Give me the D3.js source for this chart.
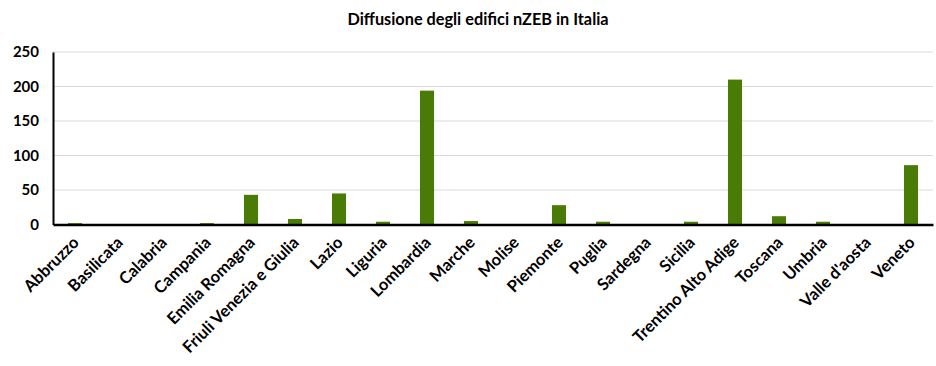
<!DOCTYPE html>
<html>
<head>
<meta charset="utf-8">
<script src="https://cdn.jsdelivr.net/npm/d3@7"></script>
<style>
  body { margin: 0; background: #fff; }
  svg { display: block; font-family: Lato, "Open Sans", sans-serif; }
  .axis path, .axis line { stroke: #000; }
  .grid line { stroke: #d9d9d9; }
</style>
</head>
<body>
<svg width="936" height="366"></svg>
<script>
// dati
var regioni = ["Abbruzzo", "Basilicata", "Calabria", "Campania", "Emilia Romagna",
  "Friuli Venezia e Giulia", "Lazio", "Liguria", "Lombardia", "Marche", "Molise",
  "Piemonte", "Puglia", "Sardegna", "Sicilia", "Trentino Alto Adige", "Toscana",
  "Umbria", "Valle d'aosta", "Veneto"];
var edifici = [2, 0, 0, 2, 43, 8, 45, 4, 194, 5, 0, 28, 4, 0, 4, 210, 12, 4, 0, 86];
var yTicks = [0, 50, 100, 150, 200, 250];
var titolo = "Diffusione degli edifici nZEB in Italia";

var svg = d3.select("svg"),
    margin = {top: 52, right: 3, bottom: 141, left: 53},
    width = +svg.attr("width"),
    height = +svg.attr("height");

var x = d3.scaleBand()
    .domain(regioni)
    .range([margin.left, width - margin.right])
    .paddingInner(0.68)
    .paddingOuter(0.34);

var y = d3.scaleLinear()
    .domain([0, 250])
    .range([224.5, margin.top]);

// titolo
svg.append("text")
    .attr("x", 478)
    .attr("y", 25)
    .attr("text-anchor", "middle")
    .attr("font-size", 16.3)
    .attr("font-weight", "bold")
    .text(titolo);

// griglia
svg.append("g")
    .attr("class", "grid")
    .selectAll("line")
    .data(yTicks.slice(1))
    .enter().append("line")
    .attr("x1", margin.left)
    .attr("x2", width - margin.right)
    .attr("y1", function(d) { return y(d); })
    .attr("y2", function(d) { return y(d); });

// barre
svg.append("g")
    .selectAll("rect")
    .data(edifici)
    .enter().append("rect")
    .attr("x", function(d, i) { return x(regioni[i]); })
    .attr("y", function(d) { return y(d); })
    .attr("width", x.bandwidth())
    .attr("height", function(d) { return y(0) - y(d); })
    .attr("fill", "#4a7b06");

// asse y
var gy = svg.append("g")
    .attr("class", "axis")
    .attr("transform", "translate(" + margin.left + ",0)")
    .call(d3.axisLeft(y).tickValues(yTicks).tickSize(0).tickPadding(14));
gy.select(".domain").attr("stroke-width", 2);
gy.selectAll("text")
    .attr("font-size", 15)
    .attr("font-weight", "bold")
    .attr("font-family", "Lato, sans-serif")
    .attr("fill", "#000");

// asse x
var gx = svg.append("g")
    .attr("class", "axis")
    .attr("transform", "translate(0," + y(0) + ")")
    .call(d3.axisBottom(x).tickSize(0).tickSizeOuter(0));
gx.select(".domain").attr("stroke-width", 2.5);
gx.selectAll("text")
    .attr("font-size", 16.5)
    .attr("font-weight", "bold")
    .attr("font-family", "Lato, sans-serif")
    .attr("fill", "#000")
    .attr("text-anchor", "end")
    .attr("dy", null)
    .attr("y", 0)
    .attr("transform", "translate(5,19) rotate(-45)");
</script>
</body>
</html>
